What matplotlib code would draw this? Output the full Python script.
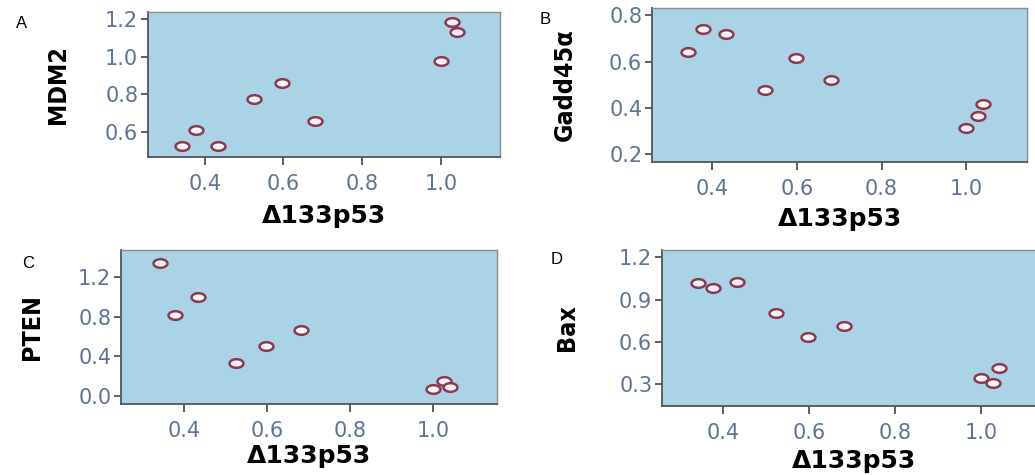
import numpy as np
import matplotlib
matplotlib.use("Agg")
import matplotlib.pyplot as plt
from matplotlib.path import Path
from matplotlib import font_manager

# Δ133p53 expression (shared x for every panel)
d133p53 = [0.342, 0.377, 0.433, 0.524, 0.597, 0.681, 1.000, 1.027, 1.040]

mdm2 = [0.527, 0.612, 0.527, 0.773, 0.858, 0.660, 0.979, 1.184, 1.129]
gadd45a = [0.641, 0.741, 0.720, 0.477, 0.615, 0.520, 0.314, 0.364, 0.419]
pten = [1.342, 0.813, 0.995, 0.329, 0.508, 0.666, 0.071, 0.152, 0.084]
bax = [1.020, 0.984, 1.022, 0.802, 0.631, 0.714, 0.340, 0.304, 0.411]

panel_letters = ["A", "B", "C", "D"]
y_names = ["MDM2", "Gadd45\u03b1", "PTEN", "Bax"]
x_name = "\u0394133p53"
x_ticks = [0.4, 0.6, 0.8, 1.0]
y_ticks = [[0.6, 0.8, 1.0, 1.2],
           [0.2, 0.4, 0.6, 0.8],
           [0.0, 0.4, 0.8, 1.2],
           [0.3, 0.6, 0.9, 1.2]]

names = sorted({f.name for f in font_manager.fontManager.ttflist})
print(names)
print(sorted({(f.name, f.stretch) for f in font_manager.fontManager.ttflist if "DejaVu" in f.name or "Liberation" in f.name}))

W, H = 1035, 475
fig = plt.figure(figsize=(W / 100, H / 100), dpi=100)

# axes boxes in pixels: left, right, top, bottom
boxes = [(148, 500, 12, 157), (652, 1027, 8, 162),
         (121, 497, 250, 404), (662, 1046, 250, 406)]
xlims = [(0.256, 1.15), (0.257, 1.144), (0.247, 1.154), (0.259, 1.15)]
ylims = [(0.467, 1.237), (0.167, 0.832), (-0.084, 1.476), (0.143, 1.252)]
# label centres in pixels
xlabel_y = [216, 219, 456, 461]
ylabel_x = [58, 565, 32, 567]
letter_pos = [(22, 23), (545, 20), (28, 263), (557, 260)]

# flat ellipse marker
t = np.linspace(0, 2 * np.pi, 60)
ell = Path(np.column_stack([np.cos(t), 0.62 * np.sin(t)]), closed=True)

bg = "#aad3e5"
tick_col = "#5f7397"

for i, yvals in enumerate([mdm2, gadd45a, pten, bax]):
    l, r, top, bot = boxes[i]
    ax = fig.add_axes([l / W, 1 - bot / H, (r - l) / W, (bot - top) / H])
    ax.set_facecolor(bg)
    ax.plot(d133p53, yvals, ls="none", marker=ell, ms=10,
            mfc="#fff3f3", mec="#8b3a52", mew=1.8)
    ax.set_xlim(*xlims[i])
    ax.set_ylim(*ylims[i])
    ax.set_xticks(x_ticks)
    ax.set_yticks(y_ticks[i])
    ax.xaxis.set_major_formatter(plt.FormatStrFormatter("%.1f"))
    ax.yaxis.set_major_formatter(plt.FormatStrFormatter("%.1f"))
    ax.tick_params(axis="x", length=6, width=1.2, color="#444444", pad=6,
                   labelsize=15, labelcolor=tick_col)
    ax.tick_params(axis="y", length=5, width=1.2, color="#444444", pad=2,
                   labelsize=15, labelcolor=tick_col)
    for s in ["left", "bottom"]:
        ax.spines[s].set_color("#555555")
        ax.spines[s].set_linewidth(1.3)
    for s in ["top", "right"]:
        ax.spines[s].set_color("#8c8c8c")
        ax.spines[s].set_linewidth(1.0)

    ax.set_xlabel(x_name, fontsize=18, fontweight="bold", va="center")
    ax.xaxis.set_label_coords(0.5, (bot - xlabel_y[i]) / (bot - top))
    ax.set_ylabel(y_names[i], fontsize=18, fontweight="bold", va="center",
                  family="DejaVu Sans", fontstretch="condensed")
    ax.yaxis.set_label_coords((ylabel_x[i] - l) / (r - l), 0.5)

    lx, ly = letter_pos[i]
    fig.text(lx / W, 1 - ly / H, panel_letters[i], fontsize=12,
             ha="center", va="center", family="Liberation Sans")

fig.savefig("out.png", dpi=100, facecolor="white")
